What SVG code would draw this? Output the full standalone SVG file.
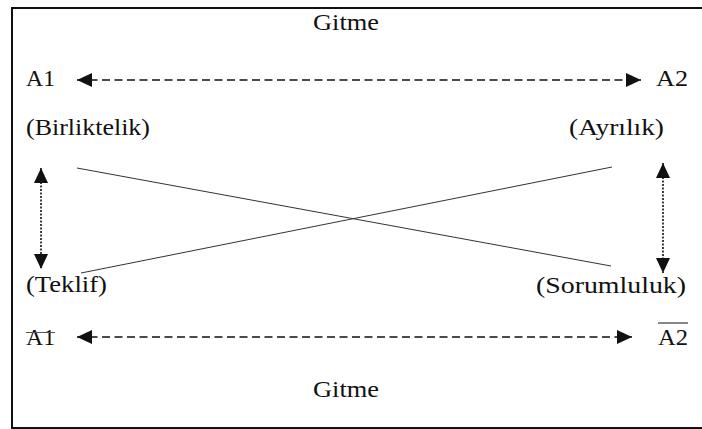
<svg xmlns="http://www.w3.org/2000/svg" width="702" height="429" viewBox="0 0 702 429">
  <style>
    .lbl { font-family: "Liberation Serif", "Times New Roman", serif; font-size: 23.5px; fill: #111; }
    .dash { fill: none; stroke: #111; stroke-width: 1.6; stroke-dasharray: 8 4.5; }
    .dot { fill: none; stroke: #111; stroke-width: 1.6; stroke-dasharray: 2 1.5; }
    .thin { fill: none; stroke: #333; stroke-width: 1; }
    .frame { fill: none; stroke: #111; stroke-width: 2; }
  </style>
  <defs>
    <marker id="head" markerUnits="userSpaceOnUse" markerWidth="15" markerHeight="14" refX="15" refY="7" orient="auto-start-reverse">
      <path d="M0,0 L15,7 L0,14 Z" fill="#111"/>
    </marker>
  </defs>

  <rect width="702" height="429" fill="#fff"/>
  <!-- outer frame, open on the right side -->
  <path class="frame" d="M702,8 H12 V428 H702"/>

  <g id="gitme-top"><text class="lbl" x="313" y="30" textLength="66" lengthAdjust="spacingAndGlyphs">Gitme</text></g>
  <g id="a1"><text class="lbl" x="26" y="86" textLength="29" lengthAdjust="spacingAndGlyphs">A1</text></g>
  <g id="a2"><text class="lbl" x="656" y="86" textLength="32" lengthAdjust="spacingAndGlyphs">A2</text></g>
  <g id="birliktelik"><text class="lbl" x="26" y="135" textLength="124" lengthAdjust="spacingAndGlyphs">(Birliktelik)</text></g>
  <g id="ayrilik"><text class="lbl" x="569" y="135" textLength="95" lengthAdjust="spacingAndGlyphs">(Ayrılık)</text></g>
  <g id="teklif"><text class="lbl" x="26" y="292" textLength="81" lengthAdjust="spacingAndGlyphs">(Teklif)</text></g>
  <g id="sorumluluk"><text class="lbl" x="536" y="293" textLength="150" lengthAdjust="spacingAndGlyphs">(Sorumluluk)</text></g>
  <g id="a1-bar">
    <text class="lbl" x="26" y="345" textLength="29" lengthAdjust="spacingAndGlyphs">A1</text>
    <line x1="26" y1="332.5" x2="55" y2="332.5" stroke="#555" stroke-width="1"/>
  </g>
  <g id="a2-bar">
    <text class="lbl" x="658" y="345" textLength="30" lengthAdjust="spacingAndGlyphs">A2</text>
    <line x1="658" y1="323" x2="688" y2="323" stroke="#111" stroke-width="1"/>
  </g>
  <g id="gitme-bottom"><text class="lbl" x="313" y="397" textLength="66" lengthAdjust="spacingAndGlyphs">Gitme</text></g>

  <g id="connectors">
    <line class="dash" x1="77" y1="80" x2="641" y2="80" marker-start="url(#head)" marker-end="url(#head)"/>
    <line class="dash" x1="77" y1="337" x2="632" y2="337" marker-start="url(#head)" marker-end="url(#head)"/>
    <line class="dot" x1="41" y1="168" x2="41" y2="269" marker-start="url(#head)" marker-end="url(#head)"/>
    <line class="dot" x1="663" y1="163" x2="663" y2="273" marker-start="url(#head)" marker-end="url(#head)"/>
    <line class="thin" x1="77" y1="168" x2="611" y2="266"/>
    <line class="thin" x1="612" y1="167" x2="81" y2="273"/>
  </g>
</svg>
